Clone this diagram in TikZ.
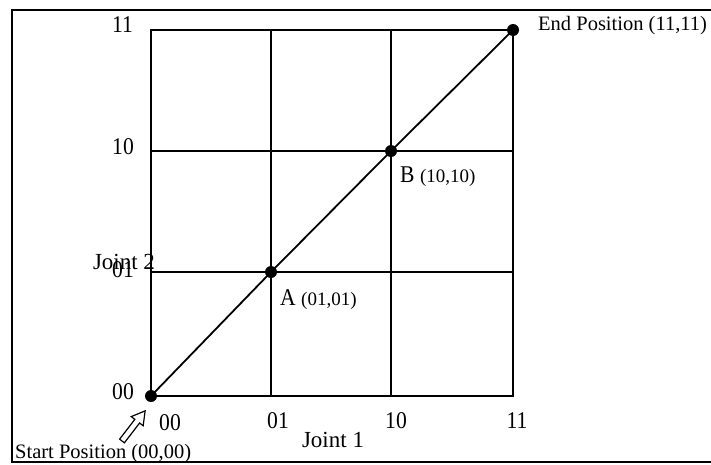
\documentclass[tikz,border=0pt]{standalone}
\usepackage{fontspec}
\setmainfont{Liberation Serif}
\newfontfamily\tickfont{Liberation Serif}[FakeStretch=0.9]
\newfontfamily\plainfont{Liberation Serif}
\begin{document}
\begin{tikzpicture}[x=1pt,y=-1pt,
  frameline/.style={line width=2pt},
  gridline/.style={line width=1.2pt},
  diagline/.style={line width=1.8pt},
  dotmark/.style={circle,fill=black,inner sep=0pt,minimum size=12pt},
  ticklab/.style={inner sep=0pt,font=\fontsize{24}{24}\selectfont\tickfont},
  axislab/.style={inner sep=0pt,font=\fontsize{23}{23}\selectfont},
  poslab/.style={inner sep=0pt,anchor=west,font=\fontsize{20.5}{20.5}\selectfont},
  ptlab/.style={inner sep=0pt,anchor=west,font=\fontsize{24}{24}\selectfont\tickfont},
  hollowarrow/.style={line width=1.2pt,fill=white}]
\useasboundingbox (0,0) rectangle (711,464);
\draw[frameline] (711,10) -- (12,10) -- (12,462) -- (711,462);
% grid
\draw[gridline] (151,30) rectangle (513,396);
\draw[gridline] (271,30) -- (271,396);
\draw[gridline] (391,30) -- (391,396);
\draw[gridline] (151,151) -- (513,151);
\draw[gridline] (151,272) -- (513,272);
% path
\coordinate (c0) at (151,396);
\coordinate (c1) at (271,272);
\coordinate (c2) at (391,151);
\coordinate (c3) at (513,30);
\draw[diagline] (c0) -- (c1) -- (c2) -- (c3);
\node[dotmark] (d0) at (c0) {};
\node[dotmark] (d1) at (c1) {};
\node[dotmark] (d2) at (c2) {};
\node[dotmark] (d3) at (c3) {};
% y ticks
\node[ticklab,anchor=east] (y11) at (133,25) {11};
\node[ticklab,anchor=east] (y10) at (134,147) {10};
\node[ticklab,anchor=east] (y01) at (134,270) {01};
\node[ticklab,anchor=east] (y00) at (134,392) {00};
% x ticks
\node[ticklab] (x00) at (170,423) {00};
\node[ticklab] (x01) at (278,421) {01};
\node[ticklab] (x10) at (396,421) {10};
\node[ticklab] (x11) at (517,421) {11};
% axis labels
\node[axislab] (j1) at (333,440) {Joint 1};
\node[axislab] (j2) at (124,262) {Joint 2};
% point labels
\node[ptlab] (la) at (280,300) {A {\plainfont\fontsize{19}{19}\selectfont(01,01)}};
\node[ptlab] (lb) at (400,177) {B {\plainfont\fontsize{19}{19}\selectfont(10,10)}};
\node[poslab] (lend) at (538,26) {End Position (11,11)};
\node[poslab] (lstart) at (15,454) {Start Position (00,00)};
% hollow arrow
\begin{scope}[shift={(122,441)},rotate=52.5]
\draw[hollowarrow] (0,-3) -- (25,-3) -- (25,-7.5) -- (38,0) -- (25,7.5) -- (25,3) -- (0,3) -- cycle;
\end{scope}
\end{tikzpicture}
\end{document}
